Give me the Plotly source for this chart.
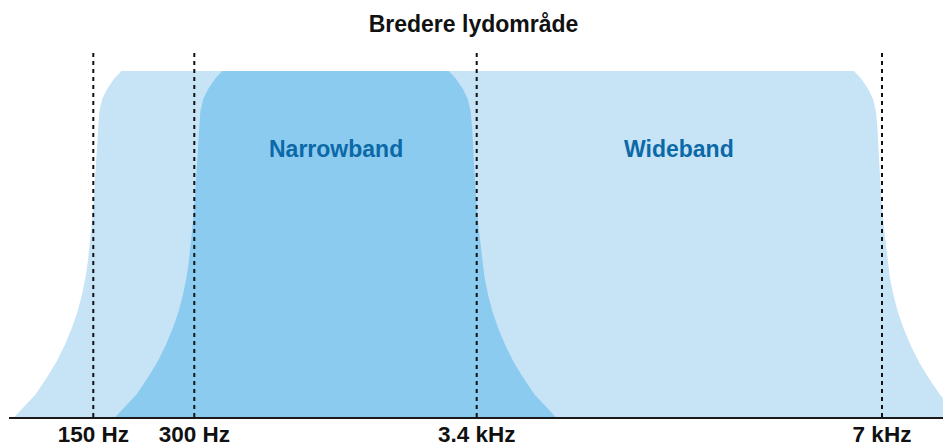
import plotly.graph_objects as go

# ---- data ----
title_text = "Bredere lydområde"
cutoff_labels = ["150 Hz", "300 Hz", "3.4 kHz", "7 kHz"]
cutoff_pos = [93.3, 194.3, 476.7, 882.0]          # schematic frequency axis positions

band_names = ["Wideband", "Narrowband"]
band_low = [93.3, 194.3]
band_high = [882.0, 476.7]

# shared roll-off profile of each band edge: relative level vs. inward offset from cutoff
edge_level = [1.0, 0.978, 0.949, 0.920, 0.882, 0.833, 0.737, 0.641, 0.545, 0.449,
              0.400, 0.352, 0.304, 0.256, 0.208, 0.160, 0.112, 0.064, 0.025, 0.0]
edge_offset = [28.0, 21.0, 14.0, 9.0, 6.0, 4.5, 2.8, 0.8, -2.0, -5.5,
               -8.0, -11.5, -15.8, -21.6, -28.5, -36.8, -46.8, -58.0, -70.5, -79.0]

# ---- styles ----
band_fill = {"Wideband": "#C7E3F6", "Narrowband": "#8BCBEF"}
label_color = "#0B69A8"
FONT = "Liberation Sans, Arial, Helvetica, sans-serif"

# the page body adds an 8px offset; figure sized so the plot lands where the reference has it
W, H = 943, 443

fig = go.Figure()

for name, lo, hi in zip(band_names, band_low, band_high):
    xs = [lo + o for o in reversed(edge_offset)] + [hi - o for o in edge_offset]
    ys = list(reversed(edge_level)) + list(edge_level)
    fig.add_trace(go.Scatter(
        x=xs, y=ys, mode="lines", fill="toself",
        fillcolor=band_fill[name],
        line=dict(width=0, color=band_fill[name]),
        hoverinfo="skip", showlegend=False,
    ))

line_top = 1.062
for c in cutoff_pos:
    fig.add_trace(go.Scatter(
        x=[c, c], y=[0, line_top], mode="lines",
        line=dict(color="#111111", width=2, dash="4px,4px"),
        hoverinfo="skip", showlegend=False,
    ))

# labels: narrowband centred in its band, wideband centred in the extra range beyond narrowband
label_x = {
    "Narrowband": (band_low[1] + band_high[1]) / 2,
    "Wideband": (band_high[1] + band_high[0]) / 2,
}
for name in band_names:
    fig.add_annotation(
        x=label_x[name], y=0.775, text="<b>%s</b>" % name, showarrow=False,
        font=dict(family=FONT, size=23, color=label_color),
        xanchor="center", yanchor="middle",
    )

fig.update_layout(
    width=W, height=H,
    margin=dict(l=1, r=0, t=32, b=34),
    paper_bgcolor="white", plot_bgcolor="white",
    title=dict(
        text="<b>%s</b>" % title_text, x=465.5 / W, xref="container", xanchor="center",
        y=1 - 15.5 / H, yref="container", yanchor="middle",
        font=dict(family=FONT, size=23, color="#111111"),
    ),
    xaxis=dict(
        range=[9, 951], showgrid=False, zeroline=False, automargin=False,
        showline=True, linecolor="#1a1a1a", linewidth=2,
        tickmode="array", tickvals=cutoff_pos, ticktext=["<b>%s</b>" % t for t in cutoff_labels],
        ticks="", ticklabelstandoff=-4,
        tickfont=dict(family=FONT, size=22.5, color="#111111"),
        fixedrange=True,
    ),
    yaxis=dict(
        range=[0, 377 / 346], showgrid=False, zeroline=False, showline=False,
        automargin=False, showticklabels=False, ticks="", fixedrange=True,
    ),
)

fig.write_html("out.html")
